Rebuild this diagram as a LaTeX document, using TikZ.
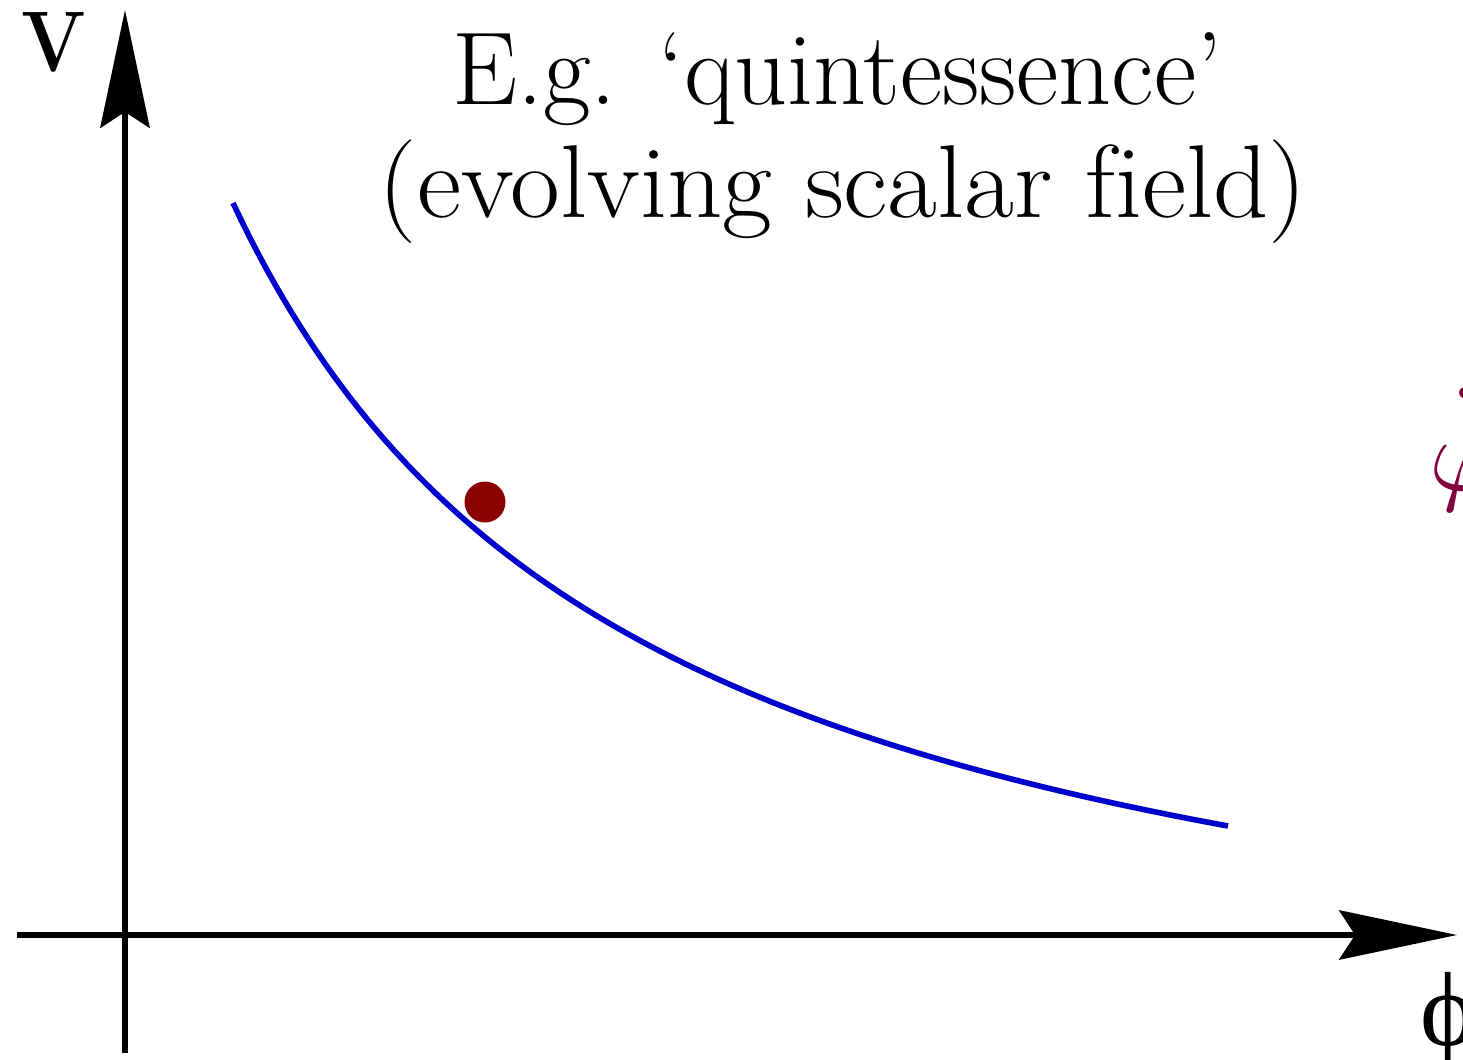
\documentclass[tikz,border=0pt]{standalone}
\usepackage{fontspec}
\newfontfamily\phifont{Liberation Serif}
\usetikzlibrary{arrows.meta}
\definecolor{curveblue}{RGB}{0,0,204}
\definecolor{dotred}{RGB}{139,0,0}
\definecolor{phimaroon}{RGB}{128,0,64}
\tikzset{
  axis/.style={line width=3.4pt, -{Stealth[length=67pt,width=28pt,inset=9pt]}},
  titletext/.style={font=\fontsize{59}{70}\selectfont, align=center},
}
\begin{document}
\begin{tikzpicture}[x=0.02cm,y=-0.02cm]
\useasboundingbox (0,0) rectangle (1463,1060);
\clip (0,0) rectangle (1463,1060);
\fill[white] (0,0) rectangle (1463,1060);
% axes
\coordinate (xstart) at (17,935);
\coordinate (xend) at (1457,935);
\coordinate (ystart) at (125,1053);
\coordinate (yend) at (125,10);
\draw[axis] (xstart) -- (xend);
\draw[axis] (ystart) -- (yend);
% labels
\node[anchor=base west, inner sep=0pt, font=\fontsize{49}{55}\selectfont\bfseries] (vlabel) at (21,72) {\scalebox{0.88}[1]{V}};
\node[anchor=base west, inner sep=0pt, font=\fontsize{60}{70}\selectfont\phifont] (philabel) at (1420,1045) {ϕ};
\node[anchor=base west, inner sep=0pt, text=phimaroon] (phidot) at (1429,490) {\scalebox{6}{\makebox[0pt][l]{\kern2.0pt\raisebox{6.7pt}{$\cdot$}}$\varphi$}};
% title
\node[titletext, anchor=base, inner sep=0pt] (title1) at (837,105) {E.g. ‘quintessence’};
\node[titletext, anchor=base, inner sep=0pt] (title2) at (843,218) {\scalebox{1.045}[1]{(evolving scalar f\kern0pt ield)}};
% potential curve
\draw[curveblue, line width=3.2pt] plot[domain=233:1228, samples=120] (\x, {1084.6 - 3641/((\x+180)/100)});
% ball
\fill[dotred] (485,502) circle (20.5);
\node[inner sep=0pt] (ball) at (485,502) {};
\end{tikzpicture}
\end{document}
